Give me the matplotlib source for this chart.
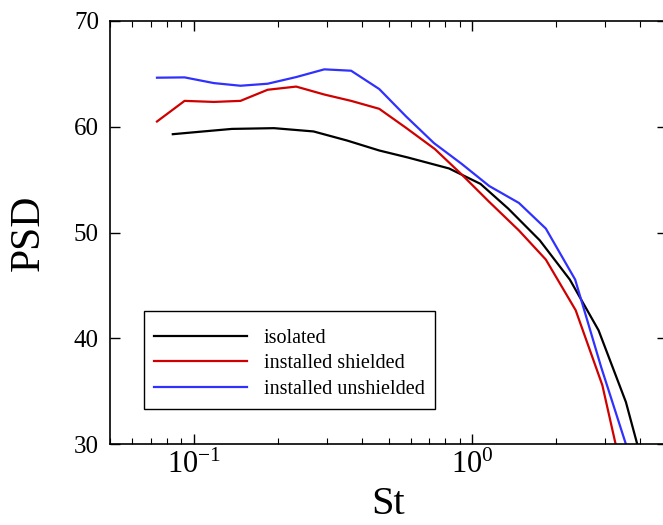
import matplotlib
matplotlib.use("Agg")
import matplotlib.pyplot as plt

plt.rcParams['font.family'] = ['Liberation Serif', 'DejaVu Serif']
plt.rcParams['mathtext.fontset'] = 'custom'
plt.rcParams['mathtext.rm'] = 'Liberation Serif'
plt.rcParams['mathtext.it'] = 'Liberation Serif:italic'
plt.rcParams['axes.unicode_minus'] = False

# spectra: Strouhal number vs PSD
st_iso = [0.084, 0.107, 0.137, 0.194, 0.269, 0.355, 0.463, 0.586, 0.825, 1.07,
          1.345, 1.746, 2.24, 2.84, 3.56, 3.91]
psd_iso = [59.3, 59.55, 59.8, 59.87, 59.56, 58.7, 57.76, 57.1, 56.06, 54.6,
           52.27, 49.27, 45.55, 40.76, 33.98, 30.0]

st_sh = [0.0737, 0.0926, 0.118, 0.147, 0.184, 0.233, 0.294, 0.367, 0.463, 0.578,
         0.733, 0.915, 1.15, 1.47, 1.836, 2.35, 2.93, 3.27]
psd_sh = [60.5, 62.45, 62.35, 62.45, 63.5, 63.8, 63.05, 62.45, 61.7, 59.9,
          57.9, 55.5, 52.9, 50.2, 47.45, 42.66, 35.57, 30.0]

st_un = [0.0737, 0.0926, 0.118, 0.147, 0.184, 0.233, 0.294, 0.367, 0.463, 0.578,
         0.728, 0.915, 1.15, 1.47, 1.836, 2.34, 2.9, 3.56]
psd_un = [64.64, 64.67, 64.13, 63.88, 64.07, 64.7, 65.43, 65.3, 63.57, 60.98,
          58.46, 56.5, 54.4, 52.8, 50.38, 45.56, 37.3, 30.0]

labels = ['isolated', 'installed shielded', 'installed unshielded']
colors = ['black', '#d00000', '#3030ff']

fig = plt.figure(figsize=(6.63, 5.25), dpi=100)
ax = fig.add_axes([0.166, 0.154, 0.84, 0.806])

for x, y, lab, c in zip([st_iso, st_sh, st_un], [psd_iso, psd_sh, psd_un], labels, colors):
    ax.plot(x, y, color=c, lw=1.6, label=lab)

ax.set_xscale('log')
ax.set_xlim(0.05, 5)
ax.set_ylim(30, 70)
ax.set_yticks([30, 40, 50, 60, 70])

ax.tick_params(which='both', direction='in', top=True, right=True)
ax.tick_params(which='major', length=7, width=1)
ax.tick_params(which='minor', length=4, width=0.8)
ax.tick_params(axis='y', pad=8, labelsize=18)
ax.tick_params(axis='x', pad=5, labelsize=22)
for s in ax.spines.values():
    s.set_linewidth(1.2)

ax.set_xlabel('St', fontsize=29, labelpad=4)
ax.set_ylabel('PSD', fontsize=30, labelpad=19)

# tiny blank title gives the extra space above the first entry
leg = ax.legend(loc='lower left', bbox_to_anchor=(0.061, 0.083), borderaxespad=0,
                fontsize=14.5, fancybox=False, edgecolor='black', framealpha=1,
                handlelength=4.6, labelspacing=0.32, borderpad=0.5,
                handletextpad=0.85, title=' ', title_fontsize=1)
leg.get_frame().set_linewidth(1.0)

fig.savefig('out.png', dpi=100)
